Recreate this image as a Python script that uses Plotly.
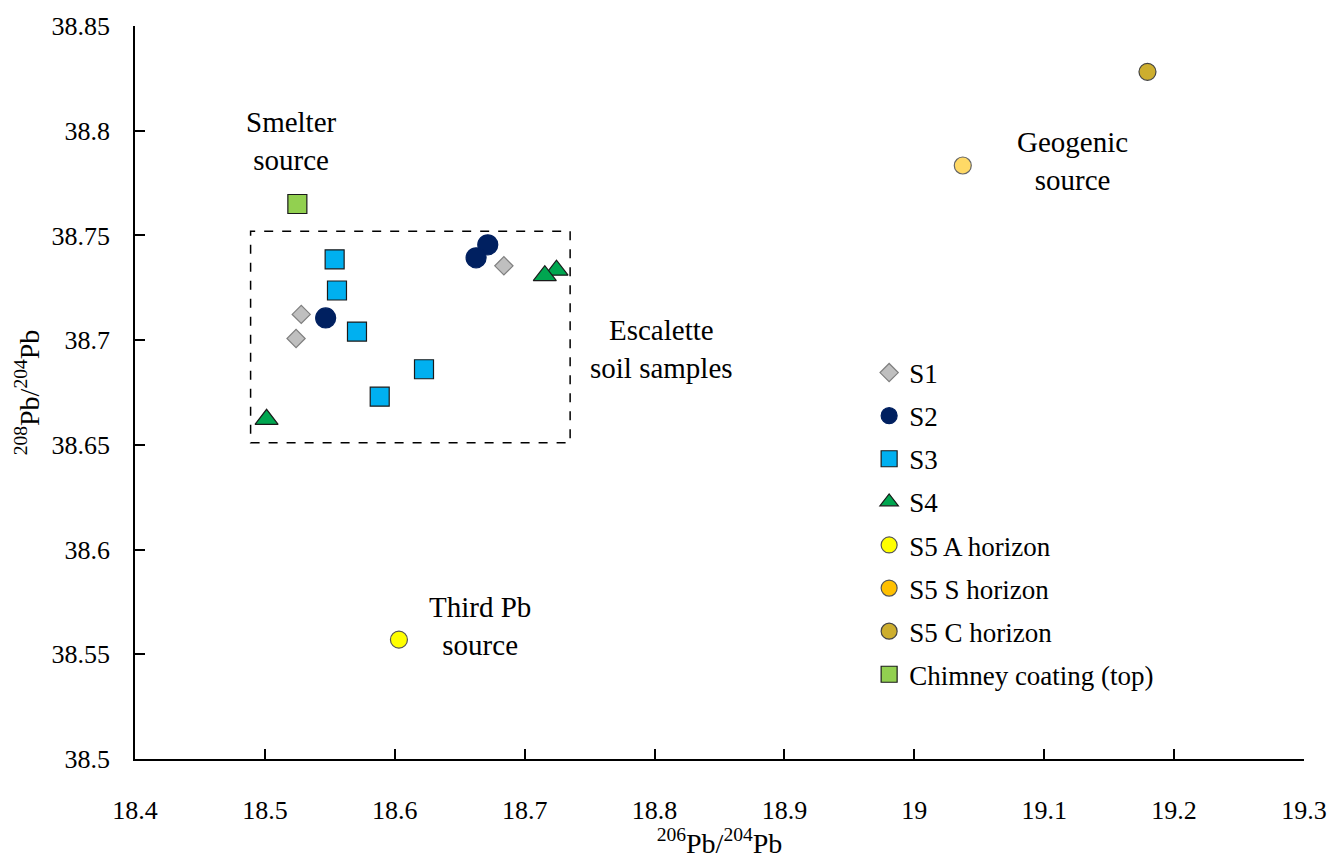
import plotly.graph_objects as go

# Lead isotope ratios per sample group: 206Pb/204Pb (x) and 208Pb/204Pb (y)
s1_x = [18.684, 18.528, 18.524]
s1_y = [38.7355, 38.7123, 38.7008]

s2_x = [18.6716, 18.6626, 18.5468]
s2_y = [38.7455, 38.7393, 38.7106]

s3_x = [18.5537, 18.5555, 18.5709, 18.6225, 18.5884]
s3_y = [38.7386, 38.7237, 38.7041, 38.6861, 38.6730]

s4_x = [18.7245, 18.7155, 18.5013]
s4_y = [38.7334, 38.7308, 38.6622]

s5a_x = [18.6032]
s5a_y = [38.5570]

s5s_x = [19.0373]
s5s_y = [38.7834]

s5c_x = [19.1795]
s5c_y = [38.8281]

chimney_x = [18.525]
chimney_y = [38.765]

# Outline around the Escalette soil samples
box_x = [18.489, 18.735]
box_y = [38.651, 38.752]

# Source labels: (text, x, y)
labels = [
    ("Smelter<br>source", 18.5206, 38.795),
    ("Escalette<br>soil samples", 18.8056, 38.6957),
    ("Geogenic<br>source", 19.1215, 38.7855),
    ("Third Pb<br>source", 18.6654, 38.5636),
]

FONT = "Times New Roman, Liberation Serif, DejaVu Serif, serif"

fig = go.Figure()


def add_group(name, xs, ys, symbol, size, fill, edge, edge_w=1.2, show=True):
    fig.add_trace(go.Scatter(
        x=xs, y=ys, mode="markers", name=name, legendgroup=name,
        showlegend=show,
        marker=dict(symbol=symbol, size=size, color=fill,
                    line=dict(color=edge, width=edge_w)),
    ))


add_group("S1", s1_x, s1_y, "diamond", 14, "#BFBFBF", "#7F7F7F")
add_group("S2", s2_x, s2_y, "circle", 20, "#002060", "#002060")
add_group("S3", s3_x, s3_y, "square", 19, "#00B0F0", "#1A1A1A")
add_group("S4", s4_x, s4_y, "triangle-up", 20, "#00A650", "#1A1A1A")
add_group("S5 A horizon", s5a_x, s5a_y, "circle", 17, "#FFFF00", "#555555")
# S5 S horizon point is drawn semi-transparent; its legend key stays solid
add_group("S5 S horizon", s5s_x, s5s_y, "circle", 17, "#FFD966", "#666666", show=False)
add_group("S5 S horizon", [None], [None], "circle", 17, "#FFC000", "#555555")
add_group("S5 C horizon", s5c_x, s5c_y, "circle", 17, "#CDAE2E", "#444444")
add_group("Chimney coating (top)", chimney_x, chimney_y, "square", 19, "#92D050", "#1A1A1A")

fig.add_shape(type="rect", xref="x", yref="y",
              x0=box_x[0], x1=box_x[1], y0=box_y[0], y1=box_y[1],
              line=dict(color="black", width=1.5, dash="dash"),
              fillcolor="rgba(0,0,0,0)", layer="below")

for text, lx, ly in labels:
    fig.add_annotation(x=lx, y=ly, xref="x", yref="y", text=text,
                       showarrow=False, font=dict(family=FONT, size=29, color="black"))

axis_common = dict(
    showgrid=False, zeroline=False,
    showline=True, linecolor="black", linewidth=1.5,
    ticks="inside", ticklen=10, tickwidth=1.5, tickcolor="black",
    tickfont=dict(family=FONT, size=26, color="black"),
    mirror=False,
)

fig.update_layout(
    width=1343, height=859,
    margin=dict(l=135, r=39, t=23, b=92),
    paper_bgcolor="white", plot_bgcolor="white",
    font=dict(family=FONT, color="black"),
    xaxis=dict(range=[18.4, 19.3], dtick=0.1, tick0=18.4,
               ticklabelstandoff=27,
               title=dict(text="<sup>206</sup>Pb/<sup>204</sup>Pb",
                          font=dict(family=FONT, size=28), standoff=2),
               **axis_common),
    yaxis=dict(range=[38.5, 38.85], dtick=0.05, tick0=38.5,
               ticklabelstandoff=18,
               title=dict(text="<sup>208</sup>Pb/<sup>204</sup>Pb",
                          font=dict(family=FONT, size=28), standoff=4),
               **axis_common),
    legend=dict(x=0.628, y=0.56, xanchor="left", yanchor="top",
                font=dict(family=FONT, size=27, color="black"),
                itemwidth=30, tracegroupgap=5, bgcolor="rgba(0,0,0,0)"),
    showlegend=True,
)

fig.write_html("out.html")
